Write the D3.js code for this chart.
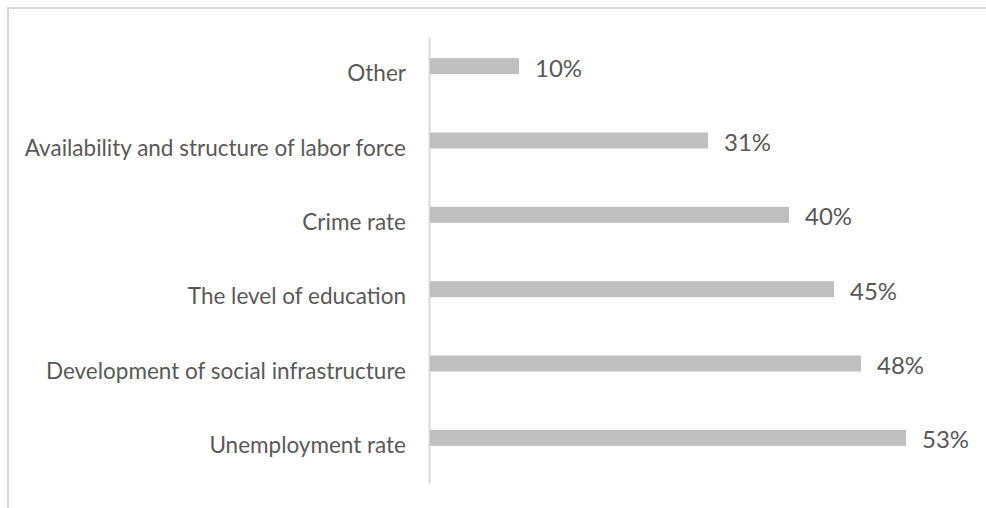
<!DOCTYPE html>
<html>
<head>
<meta charset="utf-8">
<script src="https://cdn.jsdelivr.net/npm/d3@7"></script>
<style>
  html, body { margin: 0; padding: 0; background: #fff; }
  svg { display: block; }
  text { font-family: Lato, "Open Sans", sans-serif; fill: #595959; }
</style>
</head>
<body>
<svg id="chart" width="986" height="508"></svg>
<script>
// Reasons cited, top to bottom
const categories = [
  "Other",
  "Availability and structure of labor force",
  "Crime rate",
  "The level of education",
  "Development of social infrastructure",
  "Unemployment rate"
];
const values = [10, 31, 40, 45, 48, 53];
const valueLabels = ["10%", "31%", "40%", "45%", "48%", "53%"];

const W = 986, H = 508;
const axisX = 429;
const plotTop = 37, plotBottom = 483;
const barHeight = 16;
const barShift = -8;   // bars sit slightly above the band centre

const svg = d3.select("#chart");

// outer frame (top and left edges only)
svg.append("path")
  .attr("d", `M8,${H} L8,8 L${W},8`)
  .attr("fill", "none")
  .attr("stroke", "#d9d9d9")
  .attr("stroke-width", 2);

const x = d3.scaleLinear().domain([0, 53]).range([axisX, axisX + 477]);
const y = d3.scaleBand().domain(categories).range([plotTop, plotBottom]);

// category axis
const yAxis = svg.append("g")
  .attr("transform", `translate(${axisX},0)`)
  .call(d3.axisLeft(y).tickSize(0).tickPadding(23).tickSizeOuter(0));
yAxis.select(".domain").attr("stroke", "#d9d9d9").attr("stroke-width", 2);
yAxis.selectAll("text")
  .attr("font-size", 22.5)
  .style("font-family", "Lato, 'Open Sans', sans-serif")
  .attr("fill", "#595959");

const data = categories.map((c, i) => ({ c, v: values[i], label: valueLabels[i] }));

svg.append("g").selectAll("rect")
  .data(data)
  .join("rect")
  .attr("x", x(0) + 1)
  .attr("y", d => y(d.c) + y.bandwidth() / 2 - barHeight / 2 + barShift)
  .attr("width", d => x(d.v) - x(0) - 1)
  .attr("height", barHeight)
  .attr("fill", "#bfbfbf");

svg.append("g").selectAll("text")
  .data(data)
  .join("text")
  .attr("x", d => x(d.v) + 16)
  .attr("y", d => y(d.c) + y.bandwidth() / 2 + barShift + 2)
  .attr("dy", "0.35em")
  .attr("font-size", 24)
  .text(d => d.label);
</script>
</body>
</html>
